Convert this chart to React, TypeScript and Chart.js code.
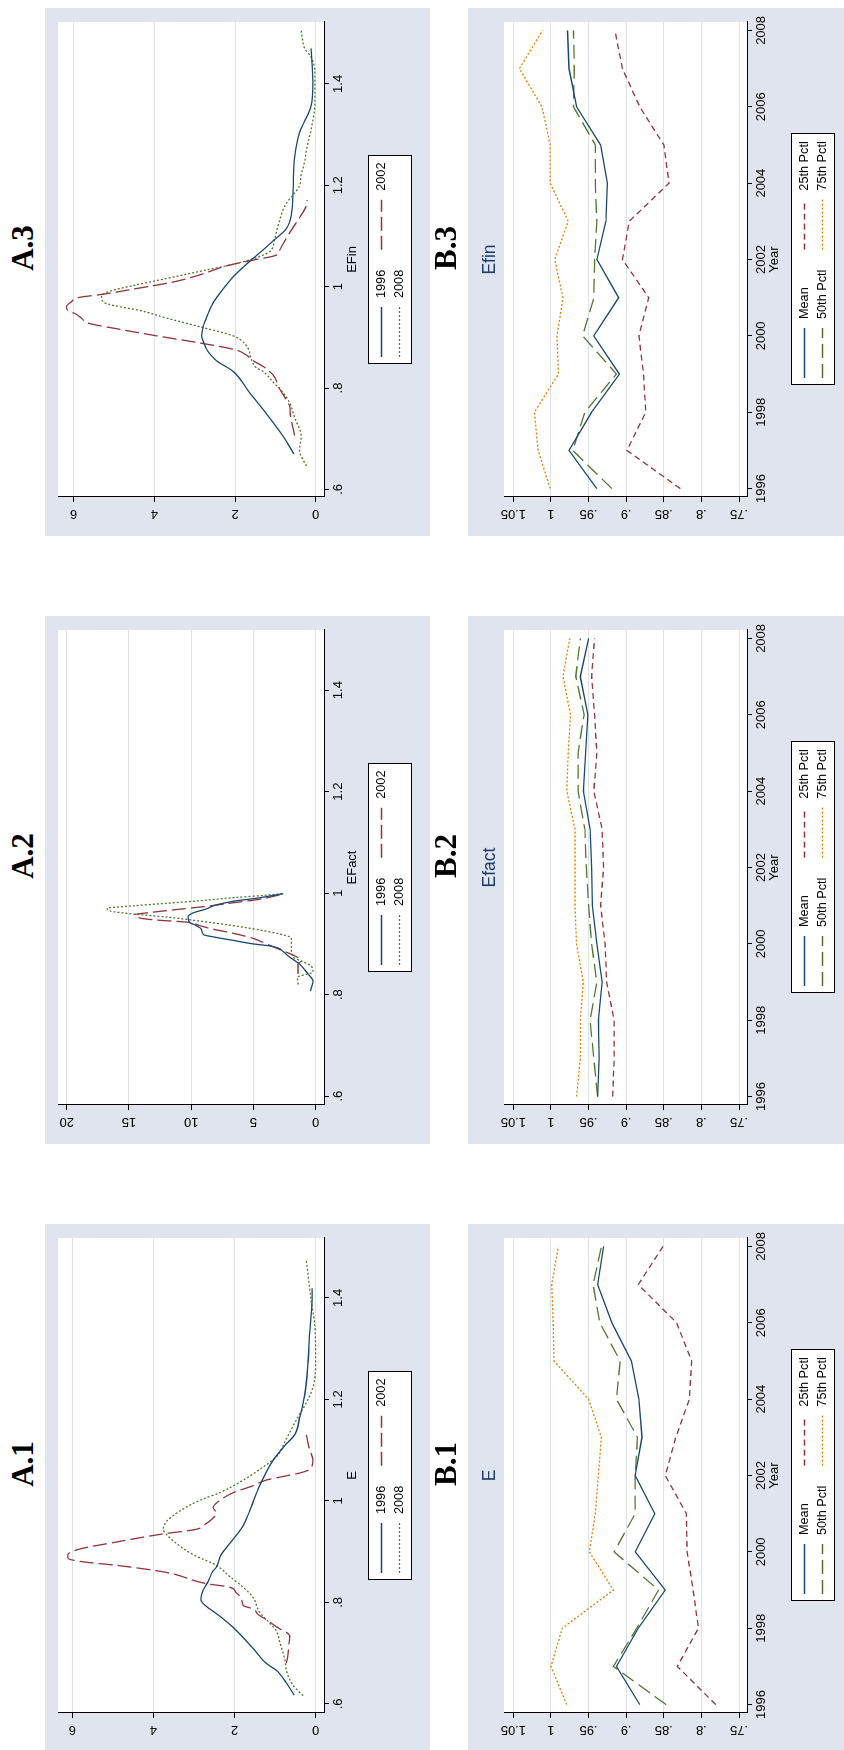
import React, { useEffect, useRef } from 'react';
import { Chart, registerables } from 'chart.js';

Chart.register(...registerables);

const FONT = "'Liberation Sans', Arial, Helvetica, sans-serif";
Chart.defaults.font.family = FONT;
Chart.defaults.color = '#000';

// ---------------- DATA ----------------
const E_TICKS = [0.6, 0.8, 1.0, 1.2, 1.4];
const E_TICK_LABELS = ['.6', '.8', '1', '1.2', '1.4'];
const DENS6_TICKS = [0, 2, 4, 6];
const DENS6_LABELS = ['0', '2', '4', '6'];
const DENS20_TICKS = [0, 5, 10, 15, 20];
const DENS20_LABELS = ['0', '5', '10', '15', '20'];
const YEAR_TICKS = [1996, 1998, 2000, 2002, 2004, 2006, 2008];
const YEAR_TICK_LABELS = ['1996', '1998', '2000', '2002', '2004', '2006', '2008'];
const VAL_TICKS = [0.75, 0.8, 0.85, 0.9, 0.95, 1.0, 1.05];
const VAL_TICK_LABELS = ['.75', '.8', '.85', '.9', '.95', '1', '1.05'];

const A_SERIES_LABELS = ['1996', '2002', '2008'];
const B_SERIES_LABELS = ['Mean', '25th Pctl', '50th Pctl', '75th Pctl'];

// A.1  (E)
const A1_E_1996 = [0.617, 0.641, 0.666, 0.680, 0.709, 0.751, 0.773, 0.787, 0.798, 0.805, 0.823, 0.841, 0.862, 0.869, 0.894, 0.916, 0.937, 0.951, 0.980, 1.030, 1.080, 1.109, 1.130, 1.166, 1.209, 1.273, 1.330, 1.394, 1.419];
const A1_D_1996 = [0.53, 0.72, 0.97, 1.22, 1.54, 2.04, 2.37, 2.61, 2.78, 2.83, 2.78, 2.65, 2.53, 2.45, 2.33, 2.12, 1.91, 1.79, 1.63, 1.38, 1.05, 0.76, 0.52, 0.39, 0.27, 0.19, 0.15, 0.09, 0.09];
const A1_E_2002 = [0.680, 0.701, 0.716, 0.734, 0.741, 0.748, 0.766, 0.776, 0.787, 0.794, 0.809, 0.819, 0.830, 0.837, 0.859, 0.873, 0.880, 0.887, 0.894, 0.905, 0.919, 0.934, 0.944, 0.951, 0.966, 0.976, 0.987, 0.998, 1.016, 1.030, 1.041, 1.048, 1.055, 1.062, 1.080, 1.101, 1.130];
const A1_D_2002 = [0.72, 0.68, 0.66, 0.64, 0.72, 0.89, 1.22, 1.42, 1.54, 1.79, 1.83, 1.96, 2.12, 2.70, 3.68, 4.91, 5.74, 6.11, 6.11, 5.82, 4.91, 3.84, 2.94, 2.78, 2.53, 2.45, 2.53, 2.41, 2.04, 1.54, 1.22, 0.81, 0.39, 0.15, 0.07, 0.15, 0.23];
const A1_E_2008 = [0.616, 0.637, 0.666, 0.687, 0.723, 0.744, 0.759, 0.780, 0.809, 0.830, 0.851, 0.873, 0.894, 0.916, 0.934, 0.944, 0.959, 0.980, 1.001, 1.016, 1.037, 1.062, 1.087, 1.123, 1.159, 1.194, 1.223, 1.273, 1.344, 1.394, 1.473];
const A1_D_2008 = [0.31, 0.56, 0.72, 0.76, 0.89, 0.97, 1.13, 1.38, 1.54, 1.79, 2.12, 2.45, 3.02, 3.43, 3.68, 3.76, 3.68, 3.35, 2.86, 2.37, 1.87, 1.38, 0.97, 0.72, 0.48, 0.23, 0.07, 0.00, 0.02, 0.11, 0.23];

// A.2  (EFact)
const A2_E_1996 = [0.807, 0.827, 0.841, 0.860, 0.874, 0.885, 0.892, 0.896, 0.900, 0.907, 0.914, 0.918, 0.929, 0.936, 0.943, 0.954, 0.961, 0.969, 0.976, 0.980, 0.985, 0.989, 0.999];
const A2_D_1996 = [0.43, 0.21, 0.62, 1.29, 2.09, 2.62, 3.03, 3.69, 5.03, 6.64, 8.25, 9.00, 9.18, 9.59, 10.17, 10.25, 9.85, 8.78, 8.11, 7.44, 6.37, 5.03, 2.62];
const A2_E_2002 = [0.841, 0.860, 0.867, 0.878, 0.889, 0.900, 0.911, 0.921, 0.929, 0.936, 0.943, 0.947, 0.951, 0.958, 0.961, 0.967, 0.974, 0.981, 0.988, 0.998];
const A2_D_2002 = [1.42, 1.42, 1.15, 1.82, 2.89, 3.96, 5.03, 6.64, 8.25, 9.32, 10.39, 12.80, 14.14, 14.54, 13.60, 11.46, 8.78, 6.64, 4.50, 2.68];
const A2_E_2008 = [0.820, 0.834, 0.845, 0.856, 0.865, 0.874, 0.892, 0.911, 0.914, 0.925, 0.936, 0.945, 0.953, 0.959, 0.965, 0.970, 0.975, 0.980, 0.985, 0.991, 0.996, 0.999];
const A2_D_2008 = [1.42, 1.47, 0.21, 0.35, 1.02, 1.82, 1.95, 1.95, 2.09, 3.96, 6.64, 9.32, 11.99, 14.67, 16.55, 16.76, 14.67, 11.99, 9.32, 6.64, 3.96, 2.62];

// A.3  (EFin)
const A3_E_1996 = [0.670, 0.705, 0.749, 0.791, 0.833, 0.854, 0.872, 0.893, 0.903, 0.921, 0.946, 0.967, 0.995, 1.019, 1.044, 1.072, 1.090, 1.114, 1.143, 1.192, 1.255, 1.304, 1.357, 1.396, 1.470];
const A3_D_1996 = [0.54, 0.81, 1.22, 1.64, 2.05, 2.46, 2.67, 2.79, 2.83, 2.79, 2.67, 2.55, 2.30, 2.05, 1.72, 1.31, 1.06, 0.73, 0.60, 0.56, 0.52, 0.40, 0.11, 0.07, 0.11];
const A3_E_2002 = [0.706, 0.720, 0.748, 0.763, 0.777, 0.798, 0.826, 0.843, 0.854, 0.865, 0.875, 0.889, 0.903, 0.917, 0.928, 0.938, 0.946, 0.953, 0.960, 0.970, 0.979, 0.984, 0.995, 1.009, 1.023, 1.041, 1.051, 1.062, 1.072, 1.107, 1.136, 1.160, 1.171];
const A3_D_2002 = [0.52, 0.56, 0.63, 0.64, 0.73, 0.89, 1.06, 1.31, 1.55, 1.72, 1.97, 2.88, 3.95, 4.94, 5.64, 5.81, 5.95, 6.14, 6.18, 6.06, 5.85, 5.36, 4.53, 3.54, 2.88, 2.21, 1.64, 0.98, 0.89, 0.64, 0.40, 0.23, 0.21];
const A3_E_2008 = [0.646, 0.678, 0.706, 0.741, 0.770, 0.791, 0.812, 0.833, 0.840, 0.858, 0.879, 0.896, 0.903, 0.921, 0.938, 0.953, 0.963, 0.970, 0.981, 0.991, 1.002, 1.016, 1.030, 1.044, 1.055, 1.062, 1.069, 1.093, 1.121, 1.164, 1.181, 1.199, 1.220, 1.248, 1.269, 1.311, 1.361, 1.424, 1.452, 1.470, 1.505];
const A3_D_2008 = [0.23, 0.40, 0.36, 0.52, 0.64, 0.81, 1.06, 1.31, 1.47, 1.60, 1.68, 1.88, 2.05, 2.88, 3.70, 4.36, 5.02, 5.27, 5.31, 5.11, 4.53, 3.70, 2.88, 2.05, 1.55, 1.31, 1.14, 1.02, 0.93, 0.73, 0.56, 0.40, 0.36, 0.27, 0.23, 0.11, 0.02, 0.02, 0.11, 0.27, 0.36];

// B panels (years 1996..2008)
const YEARS = [1996, 1997, 1998, 1999, 2000, 2001, 2002, 2003, 2004, 2005, 2006, 2007, 2008];
const B1_MEAN = [0.882, 0.913, 0.884, 0.848, 0.888, 0.862, 0.888, 0.879, 0.883, 0.893, 0.919, 0.938, 0.930];
const B1_P25 = [0.781, 0.832, 0.804, 0.811, 0.819, 0.820, 0.848, 0.834, 0.816, 0.813, 0.833, 0.884, 0.851];
const B1_P50 = [0.847, 0.917, 0.886, 0.857, 0.916, 0.888, 0.888, 0.885, 0.913, 0.908, 0.935, 0.944, 0.933];
const B1_P75 = [0.979, 1.000, 0.985, 0.917, 0.949, 0.941, 0.937, 0.933, 0.950, 0.996, 0.997, 0.999, 0.990];

const B2_MEAN = [0.938, 0.936, 0.937, 0.932, 0.939, 0.945, 0.946, 0.948, 0.957, 0.954, 0.951, 0.961, 0.950];
const B2_P25 = [0.918, 0.916, 0.916, 0.926, 0.928, 0.934, 0.930, 0.932, 0.943, 0.939, 0.942, 0.946, 0.942];
const B2_P50 = [0.938, 0.943, 0.948, 0.939, 0.946, 0.950, 0.953, 0.955, 0.964, 0.964, 0.956, 0.967, 0.961];
const B2_P75 = [0.966, 0.961, 0.961, 0.957, 0.966, 0.968, 0.968, 0.968, 0.979, 0.977, 0.974, 0.984, 0.975];

const B3_MEAN = [0.939, 0.976, 0.946, 0.909, 0.943, 0.910, 0.939, 0.927, 0.925, 0.934, 0.966, 0.976, 0.978];
const B3_P25 = [0.828, 0.899, 0.874, 0.877, 0.883, 0.870, 0.905, 0.896, 0.843, 0.850, 0.882, 0.905, 0.915];
const B3_P50 = [0.919, 0.971, 0.955, 0.913, 0.958, 0.943, 0.942, 0.939, 0.941, 0.941, 0.970, 0.969, 0.970];
const B3_P75 = [1.001, 1.017, 1.022, 0.990, 0.992, 0.984, 0.995, 0.977, 1.001, 1.001, 1.012, 1.042, 1.011];

// ---------------- STYLE / LAYOUT ----------------
const BG = '#dfe4ee';
const GRID = '#dde2ec';
const NAVY = '#1a476f';
const MAROON = '#90353b';
const GREEN = '#55752f';
const ORANGE = '#e37e00';
const TITLE_BLUE = '#1c3c6c';

const STYLE_A = [
  { color: NAVY, dash: [] },
  { color: MAROON, dash: [14, 5] },
  { color: GREEN, dash: [2, 2] },
];
const STYLE_B = [
  { color: NAVY, dash: [] },
  { color: MAROON, dash: [6, 4] },
  { color: GREEN, dash: [14, 6] },
  { color: ORANGE, dash: [2, 2] },
];

// page in its original (unrotated) orientation: 1750 wide x 844 tall
const PAGE_W = 1750;
const PAGE_H = 844;
const PANEL_LEFT = [-2, 606, 1214];
const PANEL_W = 528;
const A_TOP = 45;
const A_H = 385;
const B_TOP = 468;
const B_H = 376;
const AREA_BOTTOM = 279; // chart-area bottom inside each canvas
const Y_AXIS_W = 39;
const RIGHT_PAD = 14;

const panelBg = {
  id: 'panelBg',
  beforeDraw(chart: any) {
    const { ctx, width, height, chartArea } = chart;
    ctx.save();
    ctx.fillStyle = BG;
    ctx.fillRect(0, 0, width, height);
    ctx.fillStyle = '#ffffff';
    ctx.fillRect(chartArea.left, chartArea.top, chartArea.right - chartArea.left, chartArea.bottom - chartArea.top);
    ctx.restore();
  },
};

const stataLegend = {
  id: 'stataLegend',
  afterDraw(chart: any, _args: any, opts: any) {
    if (!opts || !opts.display) return;
    const ctx = chart.ctx;
    const ds = chart.data.datasets;
    ctx.save();
    ctx.font = `${opts.fontSize}px ${FONT}`;
    const colText = [0, 0];
    ds.forEach((d: any, i: number) => {
      colText[i % 2] = Math.max(colText[i % 2], ctx.measureText(d.label).width);
    });
    const { sample, gap, pad, colGap, top, height, rowHalf } = opts;
    const width = pad * 2 + 2 * (sample + gap) + colText[0] + colText[1] + colGap;
    const cx = (chart.chartArea.left + chart.chartArea.right) / 2;
    const left = Math.round(cx - width / 2);
    ctx.fillStyle = '#ffffff';
    ctx.fillRect(left, top, Math.round(width), height);
    ctx.strokeStyle = '#000000';
    ctx.lineWidth = 1;
    ctx.setLineDash([]);
    ctx.strokeRect(left + 0.5, top + 0.5, Math.round(width), height);
    ds.forEach((d: any, i: number) => {
      const col = i % 2;
      const row = Math.floor(i / 2);
      const x0 = left + pad + (col === 0 ? 0 : sample + gap + colText[0] + colGap);
      const y = Math.round(top + height / 2 + (row === 0 ? -rowHalf : rowHalf)) + 0.5;
      ctx.beginPath();
      ctx.setLineDash(d.borderDash || []);
      ctx.strokeStyle = d.borderColor;
      ctx.lineWidth = d.borderWidth;
      ctx.moveTo(x0, y);
      ctx.lineTo(x0 + sample, y);
      ctx.stroke();
      ctx.setLineDash([]);
      ctx.fillStyle = '#000000';
      ctx.textBaseline = 'middle';
      ctx.textAlign = 'left';
      ctx.fillText(d.label, x0 + sample + gap, y);
    });
    ctx.restore();
  },
};

type Series = { label: string; xs: number[]; ys: number[]; color: string; dash: number[] };
type Spec = {
  row: 'A' | 'B';
  col: number;
  chartTitle?: string;
  xTitle: string;
  xMin: number; xMax: number; yMin: number; yMax: number;
  xTicks: number[]; xLabels: string[]; yTicks: number[]; yLabels: string[];
  series: Series[];
};

function aSeries(e: number[][], d: number[][]): Series[] {
  return A_SERIES_LABELS.map((label, i) => ({ label, xs: e[i], ys: d[i], color: STYLE_A[i].color, dash: STYLE_A[i].dash }));
}
function bSeries(vals: number[][]): Series[] {
  return B_SERIES_LABELS.map((label, i) => ({ label, xs: YEARS, ys: vals[i], color: STYLE_B[i].color, dash: STYLE_B[i].dash }));
}

const SPECS: Spec[] = [
  {
    row: 'A', col: 0, xTitle: 'E', xMin: 0.582, xMax: 1.518, yMin: -0.205, yMax: 6.353,
    xTicks: E_TICKS, xLabels: E_TICK_LABELS, yTicks: DENS6_TICKS, yLabels: DENS6_LABELS,
    series: aSeries([A1_E_1996, A1_E_2002, A1_E_2008], [A1_D_1996, A1_D_2002, A1_D_2008]),
  },
  {
    row: 'A', col: 1, xTitle: 'EFact', xMin: 0.5825, xMax: 1.5186, yMin: -0.67, yMax: 20.7,
    xTicks: E_TICKS, xLabels: E_TICK_LABELS, yTicks: DENS20_TICKS, yLabels: DENS20_LABELS,
    series: aSeries([A2_E_1996, A2_E_2002, A2_E_2008], [A2_D_1996, A2_D_2002, A2_D_2008]),
  },
  {
    row: 'A', col: 2, xTitle: 'EFin', xMin: 0.585, xMax: 1.522, yMin: -0.207, yMax: 6.39,
    xTicks: E_TICKS, xLabels: E_TICK_LABELS, yTicks: DENS6_TICKS, yLabels: DENS6_LABELS,
    series: aSeries([A3_E_1996, A3_E_2002, A3_E_2008], [A3_D_1996, A3_D_2002, A3_D_2008]),
  },
  {
    row: 'B', col: 0, chartTitle: 'E', xTitle: 'Year', xMin: 1995.78, xMax: 2008.22, yMin: 0.7394, yMax: 1.0624,
    xTicks: YEAR_TICKS, xLabels: YEAR_TICK_LABELS, yTicks: VAL_TICKS, yLabels: VAL_TICK_LABELS,
    series: bSeries([B1_MEAN, B1_P25, B1_P50, B1_P75]),
  },
  {
    row: 'B', col: 1, chartTitle: 'Efact', xTitle: 'Year', xMin: 1995.78, xMax: 2008.22, yMin: 0.7394, yMax: 1.0624,
    xTicks: YEAR_TICKS, xLabels: YEAR_TICK_LABELS, yTicks: VAL_TICKS, yLabels: VAL_TICK_LABELS,
    series: bSeries([B2_MEAN, B2_P25, B2_P50, B2_P75]),
  },
  {
    row: 'B', col: 2, chartTitle: 'Efin', xTitle: 'Year', xMin: 1995.78, xMax: 2008.22, yMin: 0.7394, yMax: 1.0624,
    xTicks: YEAR_TICKS, xLabels: YEAR_TICK_LABELS, yTicks: VAL_TICKS, yLabels: VAL_TICK_LABELS,
    series: bSeries([B3_MEAN, B3_P25, B3_P50, B3_P75]),
  },
];

function widestLabel(labels: string[], size: number) {
  const c = document.createElement('canvas').getContext('2d');
  if (!c) return 0;
  c.font = `${size}px ${FONT}`;
  return Math.max(...labels.map((l) => c.measureText(l).width));
}

function makeConfig(spec: Spec): any {
  const isA = spec.row === 'A';
  const H = isA ? A_H : B_H;
  const tickSize = 13;
  const widest = widestLabel(spec.yLabels, tickSize);
  const tickLen = 5;
  const labelDist = 17; // axis line -> label centre
  return {
    type: 'line',
    data: {
      datasets: spec.series.map((s) => ({
        label: s.label,
        data: s.xs.map((x, i) => ({ x, y: s.ys[i] })),
        borderColor: s.color,
        borderWidth: 1.3,
        borderDash: s.dash,
        pointRadius: 0,
        fill: false,
        tension: 0,
        cubicInterpolationMode: isA ? 'monotone' : 'default',
      })),
    },
    options: {
      responsive: false,
      animation: false,
      devicePixelRatio: 1,
      events: [],
      layout: { autoPadding: false, padding: { top: isA ? 13 : 0, right: RIGHT_PAD, bottom: 0, left: 0 } },
      plugins: {
        legend: { display: false },
        tooltip: { enabled: false },
        title: isA
          ? { display: false }
          : {
              display: true,
              text: spec.chartTitle,
              color: TITLE_BLUE,
              fullSize: false,
              align: 'center',
              font: { size: 17.5, weight: 'normal', family: FONT, lineHeight: 1.2 },
              padding: { top: 11.5, bottom: 3.5 },
            },
        stataLegend: {
          display: true, fontSize: 12.7, sample: 50, gap: 9, pad: 7, colGap: 20,
          top: 323, height: 43, rowHalf: 9,
        },
      },
      scales: {
        x: {
          type: 'linear',
          position: 'bottom',
          min: spec.xMin,
          max: spec.xMax,
          afterBuildTicks: (s: any) => { s.ticks = spec.xTicks.map((v) => ({ value: v })); },
          afterFit: (s: any) => { s.height = H - AREA_BOTTOM; s.paddingLeft = 0; s.paddingRight = 0; },
          ticks: {
            autoSkip: false, minRotation: 0, maxRotation: 0, padding: 1.5, color: '#000',
            font: { size: tickSize },
            callback: (_v: any, i: number) => spec.xLabels[i],
          },
          grid: { drawOnChartArea: false, drawTicks: true, tickLength: tickLen, tickColor: '#000', tickWidth: 1 },
          border: { display: true, color: '#000', width: 1 },
          title: {
            display: true, text: spec.xTitle, color: '#000', font: { size: 13 },
            padding: { top: 0, bottom: isA ? 70.2 : 61.5 },
          },
        },
        y: {
          type: 'linear',
          position: 'left',
          min: spec.yMin,
          max: spec.yMax,
          afterBuildTicks: (s: any) => { s.ticks = spec.yTicks.map((v) => ({ value: v })); },
          afterFit: (s: any) => { s.width = Y_AXIS_W; s.paddingTop = 0; s.paddingBottom = 0; },
          ticks: {
            autoSkip: false, minRotation: 90, maxRotation: 90, crossAlign: 'center',
            padding: labelDist - tickLen - widest / 2, color: '#000',
            font: { size: tickSize },
            callback: (_v: any, i: number) => spec.yLabels[i],
          },
          grid: { color: GRID, lineWidth: 1, drawOnChartArea: true, drawTicks: true, tickLength: tickLen, tickColor: '#000', tickWidth: 1 },
          border: { display: true, color: '#000', width: 1 },
        },
      },
    },
    plugins: [panelBg, stataLegend],
  };
}

function Panel({ spec }: { spec: Spec }) {
  const ref = useRef<HTMLCanvasElement | null>(null);
  const isA = spec.row === 'A';
  const H = isA ? A_H : B_H;
  useEffect(() => {
    if (!ref.current) return;
    const chart = new Chart(ref.current, makeConfig(spec));
    return () => chart.destroy();
  }, [spec]);
  return (
    <canvas
      ref={ref}
      width={PANEL_W}
      height={H}
      style={{
        position: 'absolute',
        left: PANEL_LEFT[spec.col],
        top: isA ? A_TOP : B_TOP,
        width: PANEL_W,
        height: H,
        display: 'block',
      }}
    />
  );
}

function Caption({ text, cx, cy }: { text: string; cx: number; cy: number }) {
  return (
    <div
      style={{
        position: 'absolute',
        left: cx - 60,
        top: cy - 15.7,
        width: 120,
        height: 31,
        lineHeight: '31px',
        fontSize: 31,
        fontWeight: 'bold',
        fontFamily: "'Liberation Serif', 'Times New Roman', serif",
        textAlign: 'center',
        color: '#000',
        whiteSpace: 'nowrap',
      }}
    >
      {text}
    </div>
  );
}

export default function App() {
  return (
    <div style={{ position: 'absolute', left: 0, top: 0, width: PAGE_H, height: PAGE_W, overflow: 'hidden', background: '#fff' }}>
      <div
        style={{
          position: 'absolute',
          left: 0,
          top: 0,
          width: PAGE_W,
          height: PAGE_H,
          transformOrigin: '0 0',
          transform: `translateY(${PAGE_W}px) rotate(-90deg)`,
        }}
      >
        {SPECS.map((s, i) => (
          <Panel key={i} spec={s} />
        ))}
        {[0, 1, 2].map((c) => (
          <Caption key={'a' + c} text={`A.${c + 1}`} cx={PANEL_LEFT[c] + 288} cy={22.5} />
        ))}
        {[0, 1, 2].map((c) => (
          <Caption key={'b' + c} text={`B.${c + 1}`} cx={PANEL_LEFT[c] + 288} cy={446} />
        ))}
      </div>
    </div>
  );
}
